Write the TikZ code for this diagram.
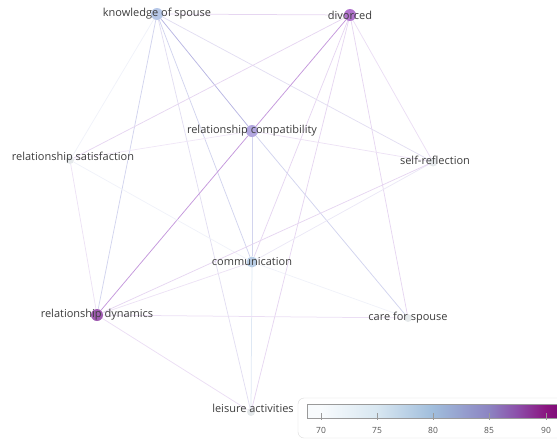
\documentclass[tikz,border=0pt]{standalone}
\usepackage{fontspec}
\setmainfont{Open Sans}
\usepackage{tikz}
\usetikzlibrary{backgrounds}
\usepackage{xcolor}
\definecolor{kosBlue}{HTML}{A9BDE3}
\definecolor{divPurple}{HTML}{A35BC4}
\definecolor{rcPurple}{HTML}{A497DB}
\definecolor{comBlue}{HTML}{ADC6E2}
\definecolor{rdMagenta}{HTML}{8E3FA3}
\definecolor{lowGray}{HTML}{E1E5E8}
\definecolor{lblGray}{HTML}{3C3C3C}
\definecolor{boxGray}{HTML}{DADADA}
\definecolor{barGray}{HTML}{9A9A9A}
\definecolor{tickGray}{HTML}{555555}
% edge colours, light to strong
\definecolor{wFaint}{HTML}{F0F2F9}
\definecolor{wLav}{HTML}{E2DEF2}
\definecolor{wLilac}{HTML}{E6D6F1}
\definecolor{wBlue}{HTML}{D2D4EE}
\definecolor{wBluePurple}{HTML}{B8B6E2}
\definecolor{wMid}{HTML}{C498DC}
% colour bar
\definecolor{cbA}{HTML}{F8FBFD}
\definecolor{cbB}{HTML}{D8E7F1}
\definecolor{cbC}{HTML}{A0BDDC}
\definecolor{cbD}{HTML}{8C84C2}
\definecolor{cbE}{HTML}{8C4FAA}
\definecolor{cbF}{HTML}{8A1580}
\definecolor{cbG}{HTML}{800C79}
\pgfdeclarehorizontalshading{buPu}{100bp}{color(0bp)=(cbA); color(27.8bp)=(cbA); color(39bp)=(cbB); color(50.2bp)=(cbC); color(61.4bp)=(cbD); color(67bp)=(cbE); color(72.8bp)=(cbF); color(75bp)=(cbG); color(100bp)=(cbG)}

\begin{document}
\begin{tikzpicture}[
    x=1pt, y=-1pt,
    dot/.style={circle, inner sep=0pt, minimum size=12pt, opacity=0.85},
    smalldot/.style={dot, minimum size=8pt, fill=lowGray},
    txt/.style={font=\fontsize{11}{13}\selectfont, text=lblGray, inner sep=0pt},
    edge/.style={line width=0.75pt},
    tick/.style={font=\fontsize{8.5}{10}\selectfont, text=tickGray, inner sep=0pt},
]
    \useasboundingbox (0,0) rectangle (557,440);

    % topics
    \node[dot, fill=kosBlue] (kos) at (157,14) {};
    \node[dot, fill=divPurple] (div) at (350,15) {};
    \node[dot, fill=rcPurple] (rc) at (252,131) {};
    \node[smalldot] (rs) at (70,160) {};
    \node[smalldot, minimum size=9pt] (sr) at (433,162) {};
    \node[dot, fill=comBlue, minimum size=11pt] (com) at (252,262) {};
    \node[dot, fill=rdMagenta] (rd) at (97,315) {};
    \node[smalldot] (cfs) at (408,318) {};
    \node[smalldot] (la) at (251,412) {};

    % links
    \begin{scope}[on background layer]
    \draw[edge, wLilac] (kos) -- (div);
    \draw[edge, wBluePurple] (kos) -- (rc);
    \draw[edge, wLav] (kos) -- (sr);
    \draw[edge, wFaint] (kos) -- (rs);
    \draw[edge, wBlue] (kos) -- (rd);
    \draw[edge, wLav] (kos) -- (la);
    \draw[edge, wBlue] (kos) -- (com);
    \draw[edge, wMid] (div) -- (rc);
    \draw[edge, wLilac] (div) -- (rs);
    \draw[edge, wLilac] (div) -- (com);
    \draw[edge, wLilac] (div) -- (la);
    \draw[edge, wLilac] (div) -- (cfs);
    \draw[edge, wLilac!80] (div) -- (sr);
    \draw[edge, wMid] (rc) -- (rd);
    \draw[edge, wLilac!60] (rc) -- (rs);
    \draw[edge, wLilac!70] (rc) -- (sr);
    \draw[edge, wBlue] (rc) -- (com);
    \draw[edge, wBlue] (rc) -- (cfs);
    \draw[edge, wLilac!70] (rs) -- (rd);
    \draw[edge, wFaint] (rs) -- (com);
    \draw[edge, comBlue!40] (com) -- (la);
    \draw[edge, wFaint] (com) -- (cfs);
    \draw[edge, wLilac!70] (com) -- (rd);
    \draw[edge, wLav!70] (com) -- (sr);
    \draw[edge, wLilac] (rd) -- (sr);
    \draw[edge, wLilac!80] (rd) -- (cfs);
    \draw[edge, wLilac!80] (rd) -- (la);
    \end{scope}

    % labels
    \node[txt] (kosLbl) at (kos) {knowledge of spouse};
    \node[txt] (divLbl) at (div) {divorced};
    \node[txt] (rcLbl) at (rc) {relationship compatibility};
    \node[txt] (rsLbl) at (73,158) {relationship satisfaction};
    \node[txt] (srLbl) at (435,160) {self-reflection};
    \node[txt] (comLbl) at (com) {communication};
    \node[txt] (rdLbl) at (rd) {relationship dynamics};
    \node[txt] (cfsLbl) at (cfs) {care for spouse};
    \node[txt] (laLbl) at (253,408) {leisure activities};

    % colour scale
    \draw[rounded corners=6pt, draw=boxGray, fill=white] (570,398) -- (298,398) -- (298,438) -- (570,438);
    \shade[shading=buPu] (307,404) rectangle (557,418);
    \draw[barGray] (565,404) -- (307,404) -- (307,418) -- (565,418);
    \foreach \v/\x in {70/321, 75/377, 80/433, 85/489, 90/546} {
        \draw[barGray] (\x,413) -- (\x,420);
        \node[tick] (t\v) at (\x,430) {\v};
    }
\end{tikzpicture}
\end{document}
